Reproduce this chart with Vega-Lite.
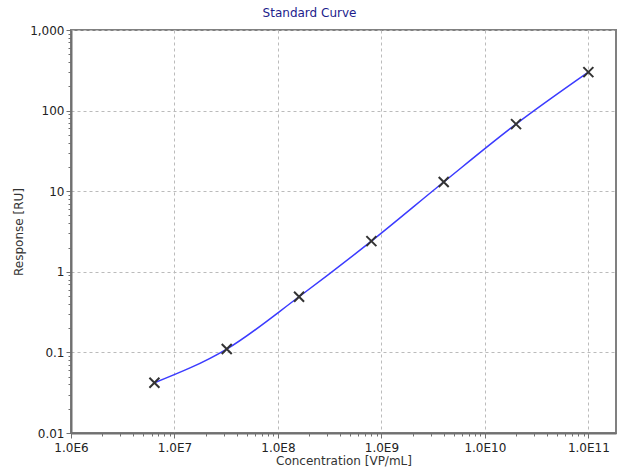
{
  "$schema": "https://vega.github.io/schema/vega-lite/v6.json",
  "autosize": "none",
  "padding": {"left": 71, "top": 30, "right": 6, "bottom": 37},
  "width": 545,
  "height": 403,
  "background": "white",
  "title": {"text": "Standard Curve", "color": "#1c1c8c", "font": "DejaVu Sans", "fontSize": 12, "fontWeight": "normal", "dx": -34, "offset": 4},
  "config": {
    "view": {"stroke": "#808080", "strokeWidth": 2},
    "axis": {"labelFont": "DejaVu Sans", "titleFont": "DejaVu Sans", "labelFontSize": 12, "titleFontSize": 12, "titleFontWeight": "normal", "labelColor": "#222", "titleColor": "#333", "domainColor": "#707070", "domainWidth": 2, "tickColor": "#707070"}
  },
  "data": {"values": [
    {"conc": 6.4e6, "resp": 0.042},
    {"conc": 3.2e7, "resp": 0.11},
    {"conc": 1.6e8, "resp": 0.49},
    {"conc": 8.0e8, "resp": 2.4},
    {"conc": 4.0e9, "resp": 13},
    {"conc": 2.0e10, "resp": 68},
    {"conc": 1.0e11, "resp": 300}
  ]},
  "resolve": {"axis": {"x": "independent", "y": "independent"}},
  "layer": [
    {
      "mark": {"type": "line", "color": "#3b3bff", "strokeWidth": 1.5, "interpolate": "monotone"},
      "encoding": {
        "x": {"field": "conc", "type": "quantitative", "scale": {"type": "log", "domain": [1e6, 1.85e11], "nice": false},
          "axis": {"orient": "bottom", "title": "Concentration [VP/mL]", "values": [1e6, 1e7, 1e8, 1e9, 1e10, 1e11], "labelExpr": "'1.0E' + round(log(datum.value)/LN10)", "grid": true, "gridDash": [3, 3], "gridColor": "#bbbbbb", "tickSize": 5, "labelPadding": 4, "titlePadding": 2, "labelFlush": false}},
        "y": {"field": "resp", "type": "quantitative", "scale": {"type": "log", "domain": [0.01, 1000], "nice": false},
          "axis": {"orient": "left", "title": "Response [RU]", "values": [0.01, 0.1, 1, 10, 100, 1000], "format": ",~g", "grid": true, "gridDash": [3, 3], "gridColor": "#bbbbbb", "tickSize": 5, "labelPadding": 2, "titlePadding": 4, "labelFlush": false}}
      }
    },
    {
      "mark": {"type": "point", "shape": "M-1,-1L1,1M1,-1L-1,1", "filled": false, "stroke": "#333333", "strokeWidth": 2, "size": 100, "opacity": 1},
      "encoding": {
        "x": {"field": "conc", "type": "quantitative", "scale": {"type": "log", "domain": [1e6, 1.85e11], "nice": false},
          "axis": {"orient": "bottom", "title": null, "labels": false, "grid": false, "domain": false, "tickSize": 3,
            "values": [2e6,3e6,4e6,5e6,6e6,7e6,8e6,9e6,2e7,3e7,4e7,5e7,6e7,7e7,8e7,9e7,2e8,3e8,4e8,5e8,6e8,7e8,8e8,9e8,2e9,3e9,4e9,5e9,6e9,7e9,8e9,9e9,2e10,3e10,4e10,5e10,6e10,7e10,8e10,9e10]}},
        "y": {"field": "resp", "type": "quantitative", "scale": {"type": "log", "domain": [0.01, 1000], "nice": false},
          "axis": {"orient": "left", "title": null, "labels": false, "grid": false, "domain": false, "tickSize": 3,
            "values": [0.02,0.03,0.04,0.05,0.06,0.07,0.08,0.09,0.2,0.3,0.4,0.5,0.6,0.7,0.8,0.9,2,3,4,5,6,7,8,9,20,30,40,50,60,70,80,90,200,300,400,500,600,700,800,900]}}
      }
    }
  ]
}
